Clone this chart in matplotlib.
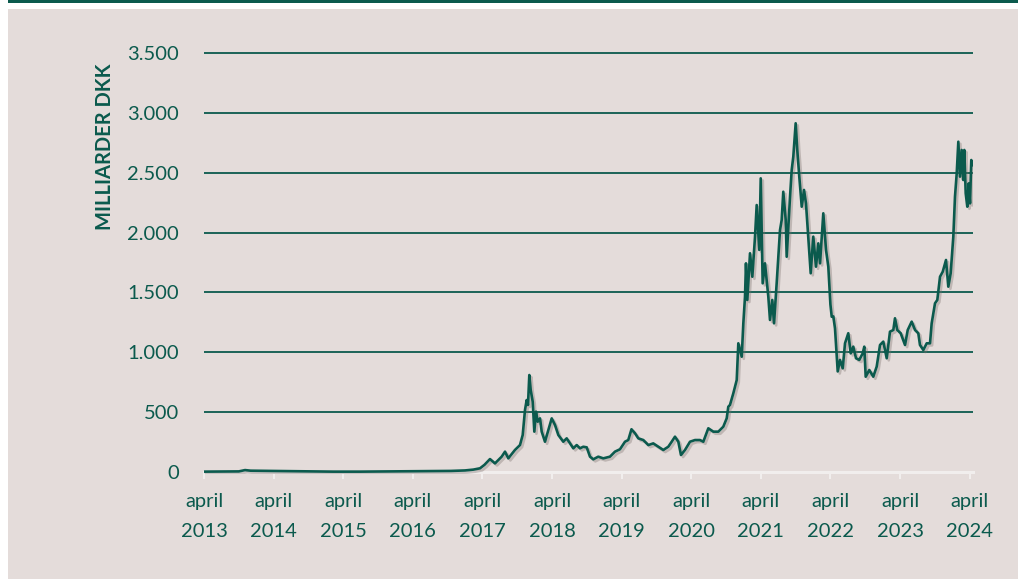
import matplotlib
matplotlib.use("Agg")
import matplotlib.pyplot as plt
import matplotlib.patheffects as pe
from matplotlib.patches import Rectangle

# ---- data (decimal years, billion DKK) ----
years = [2013.25, 2013.55, 2013.75, 2013.84, 2013.92, 2014.05, 2014.25, 2014.5, 2014.8, 2015.1,
         2015.5, 2015.9, 2016.2, 2016.5, 2016.8, 2017.0, 2017.12, 2017.216, 2017.28, 2017.359,
         2017.431, 2017.527, 2017.575, 2017.622, 2017.718, 2017.790, 2017.829, 2017.862, 2017.886, 2017.905,
         2017.924, 2017.944, 2017.973, 2017.996, 2018.020, 2018.045, 2018.078, 2018.102, 2018.149, 2018.197,
         2018.246, 2018.293, 2018.341, 2018.412, 2018.461, 2018.509, 2018.556, 2018.605, 2018.652, 2018.700,
         2018.749, 2018.796, 2018.843, 2018.915, 2018.987, 2019.083, 2019.155, 2019.227, 2019.299, 2019.346,
         2019.392, 2019.443, 2019.490, 2019.562, 2019.634, 2019.705, 2019.777, 2019.849, 2019.921, 2019.970,
         2020.017, 2020.065, 2020.103, 2020.161, 2020.233, 2020.305, 2020.376, 2020.424, 2020.496, 2020.568,
         2020.640, 2020.711, 2020.760, 2020.783, 2020.807, 2020.855, 2020.904, 2020.927, 2020.976, 2020.999,
         2021.023, 2021.037, 2021.056, 2021.095, 2021.128, 2021.167, 2021.191, 2021.228, 2021.249, 2021.277,
         2021.310, 2021.358, 2021.382, 2021.415, 2021.440, 2021.478, 2021.526, 2021.550, 2021.573, 2021.608,
         2021.622, 2021.670, 2021.694, 2021.717, 2021.751, 2021.774, 2021.803, 2021.838, 2021.871, 2021.899,
         2021.932, 2021.967, 2022.004, 2022.043, 2022.076, 2022.101, 2022.148, 2022.187, 2022.220, 2022.250,
         2022.269, 2022.292, 2022.316, 2022.341, 2022.355, 2022.388, 2022.427, 2022.460, 2022.507, 2022.542,
         2022.579, 2022.618, 2022.665, 2022.714, 2022.737, 2022.757, 2022.809, 2022.866, 2022.915, 2022.963,
         2023.010, 2023.059, 2023.106, 2023.154, 2023.178, 2023.211, 2023.260, 2023.322, 2023.361, 2023.418,
         2023.466, 2023.513, 2023.537, 2023.585, 2023.634, 2023.681, 2023.705, 2023.753, 2023.786, 2023.825,
         2023.864, 2023.911, 2023.944, 2023.978, 2024.016, 2024.040, 2024.065, 2024.088, 2024.112, 2024.136,
         2024.159, 2024.174, 2024.194, 2024.217, 2024.237, 2024.256, 2024.274, 2024.289]
values = [3, 4, 5, 16, 11, 10, 8, 7, 5, 3,
          3, 5, 6, 8, 9, 13, 20, 31, 60, 108,
          72, 128, 170, 114, 184, 225, 309, 518, 601, 560,
          810, 685, 587, 337, 504, 420, 448, 337, 253, 351,
          448, 393, 309, 253, 281, 239, 198, 225, 198, 211,
          206, 128, 106, 128, 114, 128, 170, 190, 253, 267,
          357, 323, 281, 267, 225, 239, 211, 184, 211, 253,
          295, 253, 142, 184, 253, 267, 267, 253, 365, 337,
          337, 378, 448, 545, 560, 657, 768, 1075, 963, 1242,
          1464, 1743, 1437, 1827, 1631, 1966, 2230, 1855, 2453, 1576,
          1743, 1464, 1270, 1437, 1242, 1576, 2021, 2105, 2341, 2105,
          1798, 2300, 2523, 2634, 2913, 2690, 2467, 2216, 2356, 2244,
          1966, 1660, 1966, 1715, 1910, 1743, 2161, 1855, 1715, 1400,
          1297, 1300, 1200, 963, 840, 936, 866, 1075, 1159, 991,
          1047, 950, 936, 991, 1047, 796, 852, 796, 880, 1061,
          1089, 950, 1172, 1186, 1284, 1186, 1159, 1061, 1186, 1256,
          1186, 1159, 1061, 1019, 1075, 1075, 1242, 1409, 1437, 1631,
          1673, 1771, 1548, 1660, 1966, 2300, 2495, 2759, 2467, 2690,
          2439, 2690, 2328, 2216, 2411, 2244, 2606, 2564]

tick_years = [2013 + k for k in range(12)]
tick_labels = [f"april\n{y}" for y in tick_years]
y_ticks = [0, 500, 1000, 1500, 2000, 2500, 3000, 3500]
y_tick_labels = ["0", "500", "1.000", "1.500", "2.000", "2.500", "3.000", "3.500"]
y_label = "MILLIARDER DKK"

GREEN = "#0b5a4d"
BG = "#e4dcda"
W, H = 1018, 579

plt.rcParams['font.family'] = ['Lato', 'DejaVu Sans']

fig = plt.figure(figsize=(W / 100, H / 100), dpi=100)
fig.patch.set_facecolor("white")
# background panel and top rule
fig.patches.append(Rectangle((8 / W, 0), 1 - 8 / W, 1 - 9 / H, transform=fig.transFigure,
                             facecolor=BG, edgecolor="none", zorder=-10))
fig.patches.append(Rectangle((8 / W, 1 - 3 / H), 1 - 8 / W, 3 / H, transform=fig.transFigure,
                             facecolor=GREEN, edgecolor="none", zorder=-10))

ymin, ymax = -20, 3600
ppu = 419 / 3500
y0px = 472
bottom_px = y0px - ymin * ppu
top_px = y0px - ymax * ppu
ax = fig.add_axes([204 / W, 1 - bottom_px / H, (972.7 - 204) / W, (bottom_px - top_px) / H])
ax.set_zorder(5)
ax.set_facecolor("none")
ax.set_xlim(2013.25, 2013.25 + (972.7 - 204) / 69.6)
ax.set_ylim(ymin, ymax)

for v in y_ticks[1:]:
    ax.axhline(v, color=GREEN, lw=1.3, zorder=1)

for s in ["top", "right", "left"]:
    ax.spines[s].set_visible(False)
ax.spines["bottom"].set_position(("data", 0))
ax.spines["bottom"].set_color("#f1eeed")
ax.spines["bottom"].set_linewidth(2.2)

ax.set_xticks([y + 0.25 for y in tick_years])
ax.set_xticklabels(tick_labels, linespacing=1.95)
ax.tick_params(axis="x", length=5, width=1.5, color="#f1eeed", pad=10,
               labelsize=14.5, labelcolor=GREEN)
ax.set_yticks(y_ticks)
ax.set_yticklabels(y_tick_labels)
ax.tick_params(axis="y", length=0, pad=18, labelsize=14.5, labelcolor=GREEN)

ax.plot(years, values, color=GREEN, lw=1.9, zorder=3, solid_joinstyle="round",
        path_effects=[pe.SimpleLineShadow(offset=(1.5, -1.5), shadow_color="#7a6f6c", alpha=0.35),
                      pe.Normal()])

fig.text(105 / W, 1 - 147 / H, y_label, rotation=90, ha="center", va="center",
         fontsize=14.5, fontweight="bold", color=GREEN, zorder=6)

fig.savefig("out.png", dpi=100, facecolor=fig.get_facecolor())
